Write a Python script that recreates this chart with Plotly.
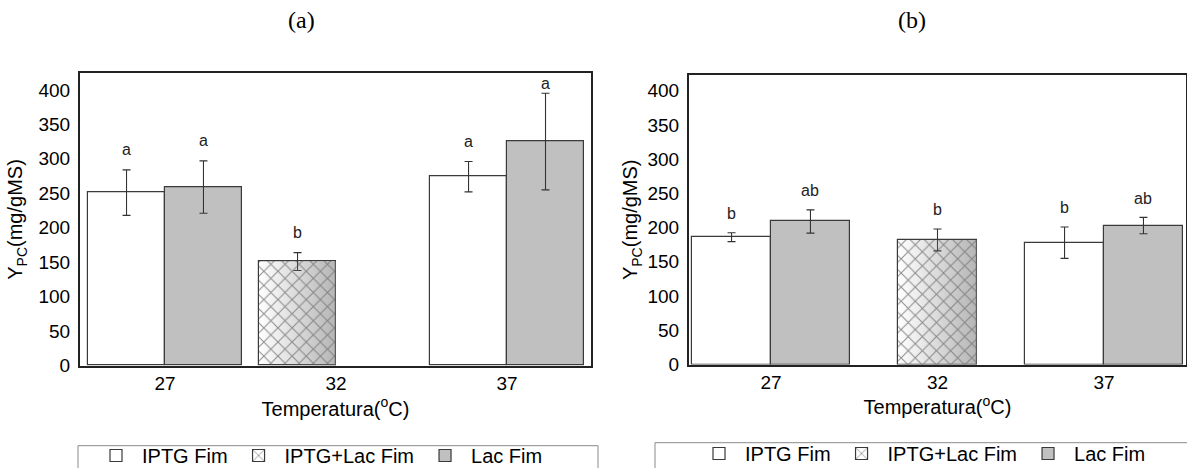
import plotly.graph_objects as go

# ---- data -------------------------------------------------------------
temps = ["27", "32", "37"]

# panel (a)
a_iptg_x = ["27", "37"]
a_iptg = [251, 274]
a_iptg_err = [33, 22]
a_iptg_lbl = ["a", "a"]

a_mix_x = ["32"]
a_mix = [151]
a_mix_err = [13]
a_mix_lbl = ["b"]

a_lac_x = ["27", "37"]
a_lac = [259, 325]
a_lac_err = [38, 70]
a_lac_lbl = ["a", "a"]

# panel (b)
b_iptg_x = ["27", "37"]
b_iptg = [186, 178]
b_iptg_err = [6.5, 23]
b_iptg_lbl = ["b", "b"]

b_mix_x = ["32"]
b_mix = [182]
b_mix_err = [16]
b_mix_lbl = ["b"]

b_lac_x = ["27", "37"]
b_lac = [209, 203]
b_lac_err = [17, 12]
b_lac_lbl = ["ab", "ab"]

# ---- page geometry (px) ----------------------------------------------
W, H = 1187, 468
FONT = "Liberation Sans, Arial, sans-serif"
EDGE = "#3a3a3a"

panels = {
    "a": dict(x0=80, x1=591, top=73.3, bottom=365.7, ymax=424,
              xr=[-0.497, 2.491], bw=0.45,
              off=dict(iptg=-0.45, mix=-0.45, lac=0.0), lshift=20,
              xa="x", ya="y", legend="legend", ytitle_standoff=10),
    "b": dict(x0=689, x1=1186, top=75, bottom=364.5, ymax=423,
              xr=[-0.4925, 2.4925], bw=0.474,
              off=dict(iptg=-0.474, mix=-0.237, lac=0.0), lshift=19,
              xa="x2", ya="y2", legend="legend2", ytitle_standoff=4),
}

series = {
    "a": [("iptg", "IPTG Fim", a_iptg_x, a_iptg, a_iptg_err, a_iptg_lbl),
          ("mix", "IPTG+Lac Fim", a_mix_x, a_mix, a_mix_err, a_mix_lbl),
          ("lac", "Lac Fim", a_lac_x, a_lac, a_lac_err, a_lac_lbl)],
    "b": [("iptg", "IPTG Fim", b_iptg_x, b_iptg, b_iptg_err, b_iptg_lbl),
          ("mix", "IPTG+Lac Fim", b_mix_x, b_mix, b_mix_err, b_mix_lbl),
          ("lac", "Lac Fim", b_lac_x, b_lac, b_lac_err, b_lac_lbl)],
}

styles = {
    "iptg": dict(color="white", line=dict(color=EDGE, width=1.2)),
    "mix": dict(color="white", line=dict(color=EDGE, width=1.2),
                pattern=dict(shape="x", fgcolor="#1e1e1e", bgcolor="white",
                             size=10, solidity=0.2)),
    "lac": dict(color="#c0c0c0", line=dict(color=EDGE, width=1.2)),
}

fig = go.Figure()
annotations = []

for key, p in panels.items():
    ppu = (p["bottom"] - p["top"]) / p["ymax"]  # px per data unit
    for sid, name, xs, vals, errs, lbls in series[key]:
        xpos = [temps.index(t) for t in xs]
        fig.add_trace(go.Bar(
            x=xpos, y=vals, name=name, width=p["bw"], offset=p["off"][sid],
            marker=styles[sid],
            error_y=dict(type="data", array=errs, color="#333333",
                         thickness=1.1, width=4),
            xaxis=p["xa"], yaxis=p["ya"], legend=p["legend"],
            hoverinfo="skip",
        ))
        # grey shading across the hatched bar (light left, darker right)
        if sid == "mix":
            for xi, v in zip(xpos, vals):
                l = xi + p["off"][sid]
                r = l + p["bw"]
                fig.add_trace(go.Scatter(
                    x=[l, l, r, r, l], y=[0, v, v, 0, 0],
                    mode="none", fill="toself",
                    fillgradient=dict(type="horizontal", colorscale=[
                        [0, "rgba(120,120,120,0.0)"],
                        [1, "rgba(120,120,120,0.55)"]]),
                    xaxis=p["xa"], yaxis=p["ya"], showlegend=False,
                    hoverinfo="skip",
                ))
        # significance letters above the error bars
        for xi, v, e, t in zip(xpos, vals, errs, lbls):
            cx = xi + p["off"][sid] + p["bw"] / 2
            ly = min(v + e + p["lshift"] / ppu, p["ymax"] - 10 / ppu)
            annotations.append(dict(
                x=cx, y=ly, xref=p["xa"], yref=p["ya"], text=t,
                showarrow=False, yanchor="middle",
                font=dict(family=FONT, size=16, color="#222")))

# panel captions
for txt, cx in (("(a)", 302), ("(b)", 912)):
    annotations.append(dict(
        x=cx / W, y=1 - 20 / H, xref="paper", yref="paper", text=txt,
        showarrow=False, xanchor="center", yanchor="middle",
        font=dict(family="Liberation Serif, Times New Roman, serif",
                  size=24, color="black")))

axis_common = dict(showgrid=False, zeroline=False, showline=True,
                   mirror=True, ticks="", fixedrange=True, automargin=False)
tickfont = dict(family=FONT, size=19, color="black")
titlefont = dict(family=FONT, size=20, color="black")

layout_axes = {}
for key, p in panels.items():
    xname = "xaxis" if p["xa"] == "x" else "xaxis2"
    yname = "yaxis" if p["ya"] == "y" else "yaxis2"
    layout_axes[xname] = dict(
        axis_common, domain=[p["x0"] / W, p["x1"] / W], range=p["xr"],
        tickvals=[0, 1, 2], ticktext=temps, tickfont=tickfont,
        linecolor="#222", linewidth=1.6, anchor=p["ya"],
        title=dict(text="Temperatura(<sup>o</sup>C)", font=titlefont,
                   standoff=8))
    layout_axes[yname] = dict(
        axis_common, domain=[1 - p["bottom"] / H, 1 - p["top"] / H],
        range=[0, p["ymax"]], tickvals=list(range(0, 401, 50)),
        tickfont=tickfont, linecolor="#222", linewidth=2, anchor=p["xa"],
        ticklabelstandoff=4,
        title=dict(text="Y<sub>PC</sub>(mg/gMS)", font=titlefont,
                   standoff=p["ytitle_standoff"]))

legend_common = dict(orientation="h", yanchor="top", xanchor="left",
                     xref="container", yref="container",
                     font=dict(family=FONT, size=20, color="black"),
                     bgcolor="rgba(0,0,0,0)", borderwidth=0,
                     traceorder="normal", itemwidth=42)

# frames around the two legends
shapes = [
    dict(type="rect", xref="paper", yref="paper", x0=78 / W, x1=598 / W,
         y0=-0.1, y1=1 - 445.7 / H, line=dict(color="#8a8a8a", width=1)),
    dict(type="rect", xref="paper", yref="paper", x0=655 / W, x1=1.02,
         y0=-0.1, y1=1 - 442.7 / H, line=dict(color="#8a8a8a", width=1)),
]

fig.update_layout(
    width=W, height=H, margin=dict(l=0, r=0, t=0, b=0, autoexpand=False),
    paper_bgcolor="white", plot_bgcolor="white",
    barmode="overlay", bargap=0,
    annotations=annotations, shapes=shapes,
    legend=dict(legend_common, x=90 / W, y=1 - 436 / H),
    legend2=dict(legend_common, x=693 / W, y=1 - 434 / H),
    **layout_axes,
)

fig.write_html("out.html")
